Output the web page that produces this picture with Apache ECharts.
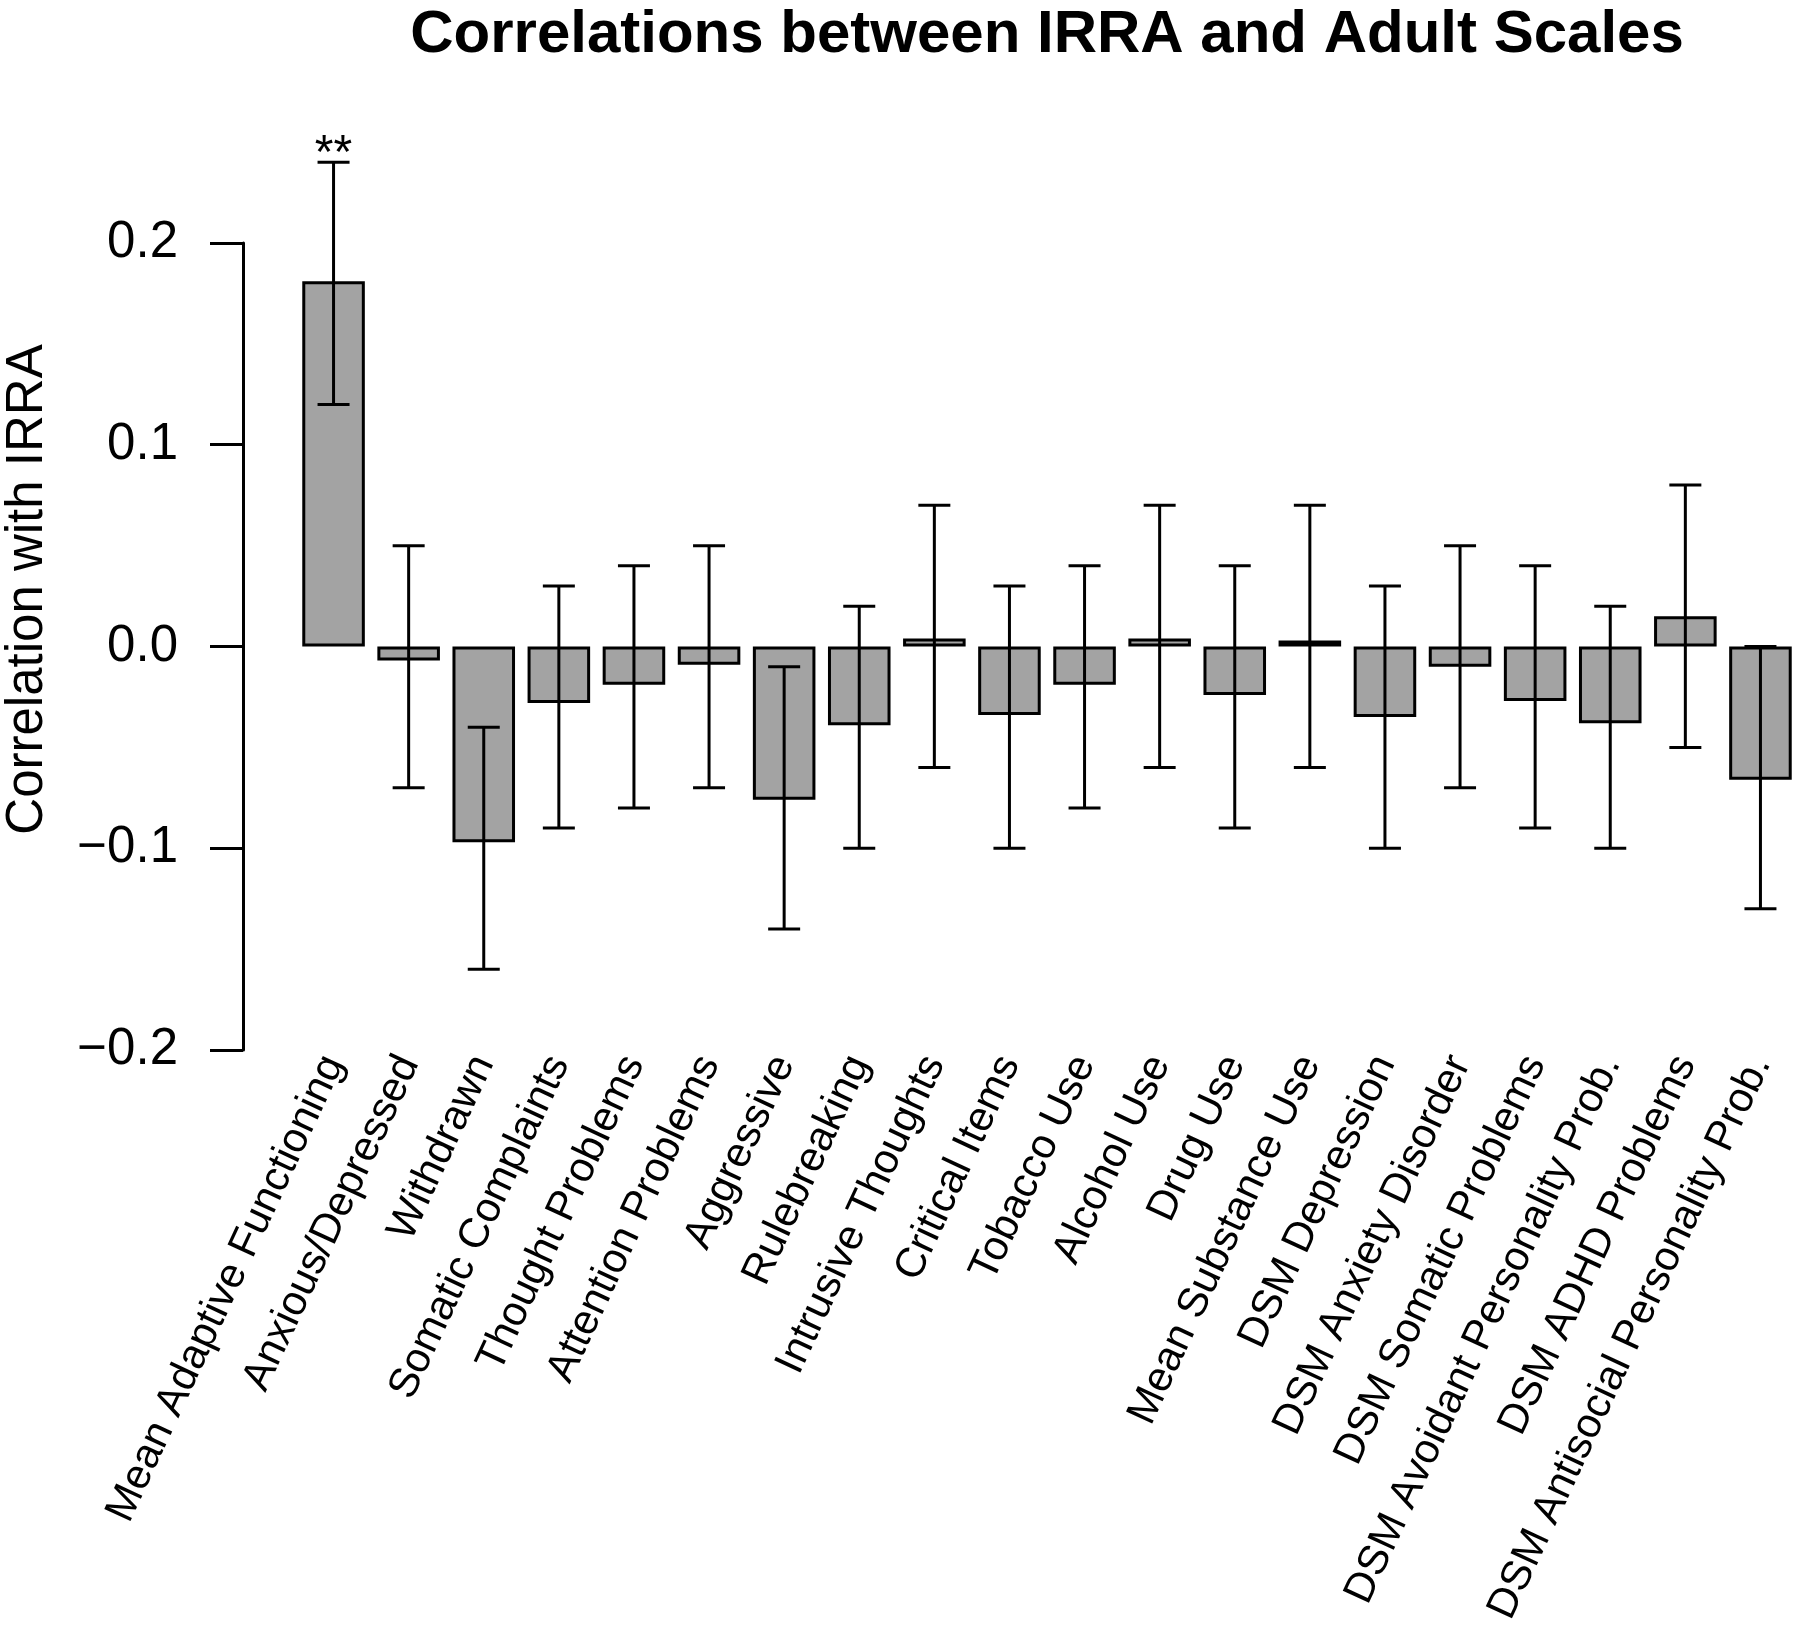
<!DOCTYPE html>
<html>
<head>
<meta charset="utf-8">
<script src="https://cdn.jsdelivr.net/npm/echarts@6/dist/echarts.min.js"></script>
<style>
  html, body { margin: 0; padding: 0; background: #fff; }
  #chart { width: 1800px; height: 1627px; }
</style>
</head>
<body>
<div id="chart"></div>
<script>
// scales correlated with IRRA
const scales = [
  'Mean Adaptive Functioning', 'Anxious/Depressed', 'Withdrawn', 'Somatic Complaints',
  'Thought Problems', 'Attention Problems', 'Aggressive', 'Rulebreaking',
  'Intrusive Thoughts', 'Critical Items', 'Tobacco Use', 'Alcohol Use', 'Drug Use',
  'Mean Substance Use', 'DSM Depression', 'DSM Anxiety Disorder', 'DSM Somatic Problems',
  'DSM Avoidant Personality Prob.', 'DSM ADHD Problems', 'DSM Antisocial Personality Prob.'
];
const corr = [0.181, -0.007, -0.097, -0.028, -0.019, -0.009, -0.076, -0.039, 0.004, -0.034,
  -0.019, 0.004, -0.024, 0.003, -0.035, -0.010, -0.027, -0.038, 0.015, -0.066];
const ciLow = [0.12, -0.07, -0.16, -0.09, -0.08, -0.07, -0.14, -0.10, -0.06, -0.10,
  -0.08, -0.06, -0.09, -0.06, -0.10, -0.07, -0.09, -0.10, -0.05, -0.13];
const ciHigh = [0.24, 0.05, -0.04, 0.03, 0.04, 0.05, -0.01, 0.02, 0.07, 0.03,
  0.04, 0.07, 0.04, 0.07, 0.03, 0.05, 0.04, 0.02, 0.08, 0.00];
const stars = ['**', '', '', '', '', '', '', '', '', '', '', '', '', '', '', '', '', '', '', ''];

const FONT = '"Liberation Sans", Arial, Helvetica, sans-serif';

const chart = echarts.init(document.getElementById('chart'), null, { renderer: 'canvas' });

const errData = scales.map((s, i) => [i, ciLow[i], ciHigh[i]]);

function renderErr(params, api) {
  const i = api.value(0);
  const lo = api.coord([i, api.value(1)]);
  const hi = api.coord([i, api.value(2)]);
  const half = 16;
  const st = { stroke: '#000', lineWidth: 3 };
  const kids = [
    { type: 'line', shape: { x1: lo[0], y1: lo[1], x2: hi[0], y2: hi[1] }, style: st },
    { type: 'line', shape: { x1: lo[0] - half, y1: lo[1], x2: lo[0] + half, y2: lo[1] }, style: st },
    { type: 'line', shape: { x1: hi[0] - half, y1: hi[1], x2: hi[0] + half, y2: hi[1] }, style: st }
  ];
  if (stars[params.dataIndex]) {
    kids.push({
      type: 'text',
      x: hi[0], y: hi[1] - 8,
      style: {
        text: stars[params.dataIndex], fill: '#000', font: '48px ' + FONT,
        align: 'center', verticalAlign: 'middle'
      }
    });
  }
  return { type: 'group', children: kids };
}

chart.setOption({
  backgroundColor: '#fff',
  animation: false,
  title: {
    text: 'Correlations between IRRA and Adult Scales',
    left: 1042, top: 0,
    textAlign: 'center',
    textStyle: { fontFamily: FONT, fontWeight: 'bold', fontSize: 60, color: '#000' }
  },
  grid: {
    left: 296, right: 2, top: 243, bottom: 577,
    outerBoundsMode: 'none'
  },
  xAxis: {
    type: 'category',
    data: scales,
    axisLine: { show: false, onZero: false },
    axisTick: { show: false },
    splitLine: { show: false },
    axisLabel: {
      interval: 0, rotate: 65, margin: 8,
      fontFamily: FONT, fontSize: 42, color: '#000'
    }
  },
  yAxis: {
    type: 'value',
    min: -0.2, max: 0.2, interval: 0.1,
    offset: 53,
    name: 'Correlation with IRRA',
    nameLocation: 'middle',
    nameGap: 190,
    nameRotate: 90,
    nameTextStyle: { fontFamily: FONT, fontSize: 51, color: '#000', padding: [0, 0, 0, 114] },
    axisLine: { show: true, lineStyle: { color: '#000', width: 3 } },
    axisTick: { show: true, length: 33, lineStyle: { color: '#000', width: 3 } },
    splitLine: { show: false },
    axisLabel: {
      margin: 65,
      fontFamily: FONT, fontSize: 51, color: '#000',
      formatter: v => v.toFixed(1).replace('-', '\u2212')
    }
  },
  series: [
    {
      type: 'bar',
      data: corr,
      barCategoryGap: '16.7%',
      itemStyle: { color: '#a3a3a3', borderColor: '#000', borderWidth: 3 },
      z: 2
    },
    {
      type: 'custom',
      data: errData,
      encode: { x: 0, y: [1, 2] },
      renderItem: renderErr,
      clip: false,
      z: 5
    }
  ]
});
</script>
</body>
</html>
